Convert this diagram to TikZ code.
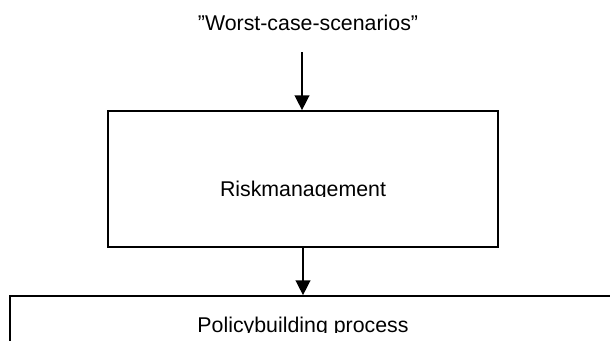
\documentclass[tikz,border=0pt]{standalone}
\usepackage{fontspec}
\setmainfont{Liberation Sans}
\usetikzlibrary{positioning, arrows.meta, fit}

\begin{document}
\begin{tikzpicture}[x=0.75pt, y=-0.75pt, font=\fontsize{16}{19}\selectfont,
    box/.style = {draw, line width=1.3pt, inner sep=0pt},
    flow/.style = {-{Triangle[width=11pt, length=11pt]}, line width=1.1pt}]
    \clip (0,0) rectangle (610,340);

    \node[anchor=base] (worst) at (308,30) {”Worst-case-scenarios”};
    \coordinate (worstend) at (302,52);

    \coordinate (r1) at (108,111);
    \coordinate (r2) at (498,247);
    \node[box, fit=(r1)(r2)] (risk) {};
    % labels are cut off at the baseline
    \begin{scope}
        \clip (r1) rectangle (r2 |- 0,196);
        \node[anchor=base] (risklabel) at (303,196) {Riskmanagement};
    \end{scope}

    \coordinate (p1) at (10,296);
    \coordinate (p2) at (700,420);
    \node[box, fit=(p1)(p2)] (policy) {};
    \begin{scope}
        \clip (p1) rectangle (p2 |- 0,332);
        \node[anchor=base] (policylabel) at (303,332) {Policybuilding process};
    \end{scope}

    \draw[flow] (worstend) -- (worstend |- risk.north);
    \draw[flow] (risk.south) -- (risk.south |- policy.north);
\end{tikzpicture}
\end{document}
